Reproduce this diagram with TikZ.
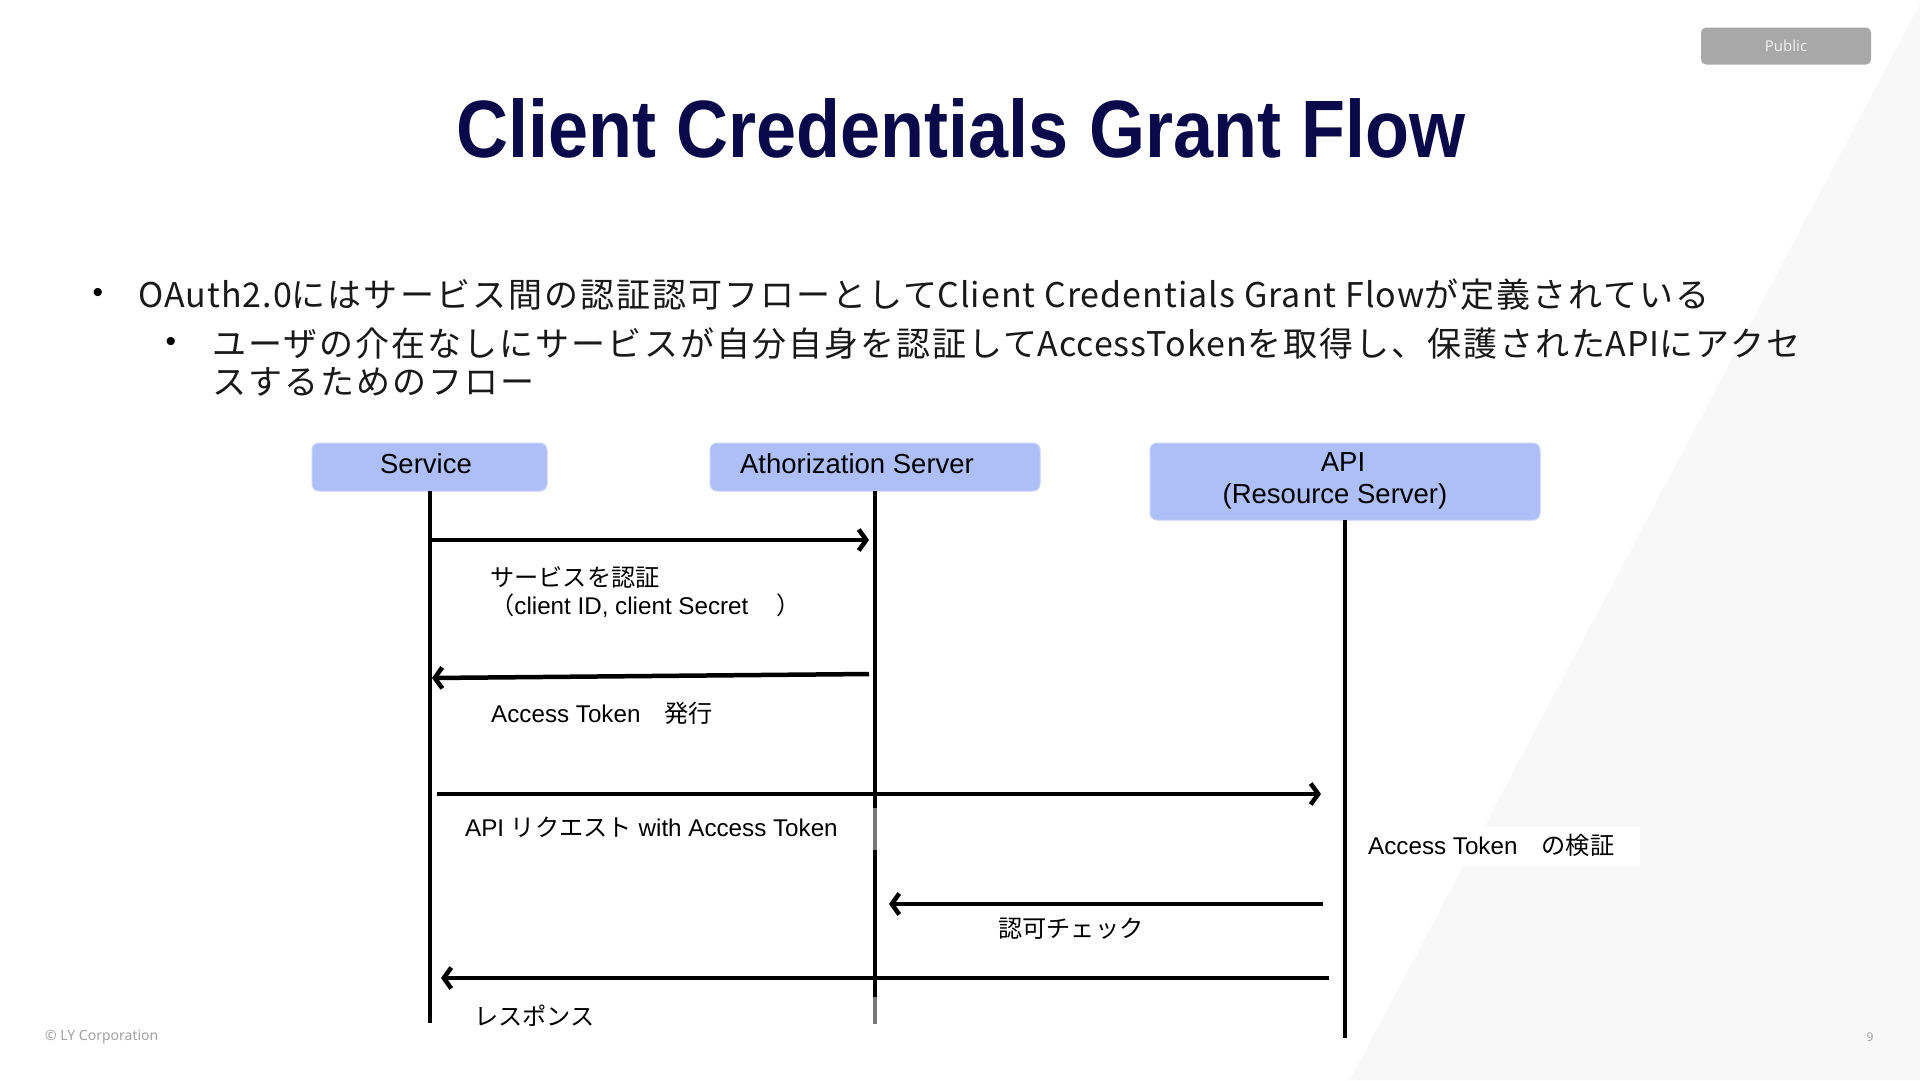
\documentclass[tikz,border=0pt]{standalone}
\usepackage{fontspec}
\setmainfont{Liberation Sans}
\newfontfamily\cjk{Noto Sans CJK JP}
\newfontfamily\cjkwide[LetterSpace=6]{Noto Sans CJK JP}
\newfontfamily\latwide[LetterSpace=3]{Noto Sans CJK JP}
\newfontfamily\footfont{Noto Sans}
\usetikzlibrary{arrows.meta}
\newcommand\jpt[1]{{\cjk #1}}
\newcommand\lw[1]{{\latwide #1}}
\definecolor{titlenavy}{RGB}{10,10,74}
\definecolor{boxblue}{RGB}{174,191,248}
\definecolor{boxedge}{RGB}{198,210,248}
\definecolor{bggray}{RGB}{248,248,248}
\definecolor{badgegray}{RGB}{168,168,168}
\definecolor{footgray}{RGB}{160,160,160}
\definecolor{lifegray}{RGB}{120,120,120}
\begin{document}
\begin{tikzpicture}[x=1pt,y=-1pt,
  lbox/.style={fill=boxblue, draw=boxedge, line width=1pt, rounded corners=7pt},
  life/.style={line width=4pt, black},
  lifeg/.style={line width=4pt, lifegray},
  msg/.style={line width=4.5pt, -{Straight Barb[length=7.5pt,width=21pt]}},
  boxtxt/.style={font=\fontsize{27.5}{33}\selectfont, inner sep=0pt},
  lbl/.style={font=\fontsize{24.2}{29}\selectfont, anchor=west, inner sep=0pt},
  bul/.style={font=\cjkwide\fontsize{34}{40}\selectfont, anchor=west, inner sep=0pt, text=black!90}
]
\useasboundingbox (0,0) rectangle (1920,1080);
\fill[white] (0,0) rectangle (1920,1080);
% background triangle
\fill[bggray] (1922,0) -- (1920,1080) -- (1350,1080) -- cycle;

% badge
\node[fill=badgegray, rounded corners=5pt, minimum width=170pt, minimum height=37pt,
      text=white!93!black, font=\footfont\fontsize{15}{18}\selectfont, inner sep=0pt] (badge) at (1786,46) {Public};

% title
\node[text=titlenavy, font=\fontsize{72}{80}\bfseries\selectfont, inner sep=0pt] (title) at (961,128)
  {\scalebox{1}[1.13]{Client Credentials Grant Flow}};

% bullets
\node[font=\fontsize{30}{36}\selectfont, inner sep=0pt] (b1) at (98,295) {•};
\node[bul] (t1) at (138,295) {\lw{OAuth2.0}にはサービス間の認証認可フローとして\lw{Client Credentials Grant Flow}が定義されている};
\node[font=\fontsize{30}{36}\selectfont, inner sep=0pt] (b2) at (171,344) {•};
\node[bul] (t2) at (212,344) {ユーザの介在なしにサービスが自分自身を認証して\lw{AccessToken}を取得し、保護された\lw{API}にアクセ};
\node[bul] (t3) at (212,382) {スするためのフロー};

% participant boxes
\path[lbox] (312,443) rectangle (547,491);
\coordinate (svctop) at (430,491);
\node[boxtxt] (svc) at (426,464) {Service};
\path[lbox] (710,443) rectangle (1040,491);
\coordinate (authtop) at (875,491);
\node[boxtxt] (auth) at (857,464) {Athorization Server};
\path[lbox] (1150,443) rectangle (1540,520);
\coordinate (apitop) at (1345,520);
\node[boxtxt] (api) at (1343,462) {API};
\node[boxtxt] (apisub) at (1335,496) {(Resource Server)};

% lifelines
\coordinate (svcbot) at (430,1023);
\coordinate (authg1) at (875,808);
\coordinate (authg2) at (875,850);
\coordinate (authg3) at (875,997);
\coordinate (authbot) at (875,1024);
\coordinate (apibot) at (1345,1038);
\draw[life] (svctop) -- (svcbot);
\draw[life] (authtop) -- (authg1);
\draw[lifeg] (authg1) -- (authg2);
\draw[life] (authg2) -- (authg3);
\draw[lifeg] (authg3) -- (authbot);
\draw[life] (apitop) -- (apibot);

% message end points
\coordinate (m1a) at (430,540);  \coordinate (m1b) at (869,540);
\coordinate (m2a) at (869,674);  \coordinate (m2b) at (432,678);
\coordinate (m3a) at (437,794);  \coordinate (m3b) at (1321,794);
\coordinate (m4a) at (1323,904); \coordinate (m4b) at (889,904);
\coordinate (m5a) at (1329,978); \coordinate (m5b) at (441,978);

\draw[msg] (m1a) -- (m1b);
\draw[msg] (m2a) -- (m2b);
\draw[msg] (m3a) -- (m3b);
\draw[msg] (m4a) -- (m4b);
\draw[msg] (m5a) -- (m5b);

% labels
\node[lbl] (l1) at (490,577) {\jpt{サービスを認証}};
\node[lbl] (l1b) at (490,606) {\jpt{（}client ID, client Secret\jpt{　}\hspace{4pt}\jpt{）}};
\node[lbl] (l2) at (491,713) {Access Token\jpt{　発行}};
\node[lbl] (l3) at (465,827) {API \jpt{リクエスト} with Access Token};
\fill[white] (1355,827) rectangle (1640,866);
\node[lbl] (l4) at (1368,845) {Access Token\jpt{　の検証}};
\node[lbl] (l5) at (998,929) {\jpt{認可チェック}};
\node[lbl] (l6) at (474,1016) {\jpt{レスポンス}};

% footer
\node[anchor=west, text=footgray, font=\footfont\fontsize{14}{17}\selectfont, inner sep=0pt] (copy) at (45,1037) {© LY Corporation};
\node[text=footgray, font=\footfont\fontsize{12}{14}\selectfont, inner sep=0pt] (pnum) at (1870,1037) {9};
\end{tikzpicture}
\end{document}
